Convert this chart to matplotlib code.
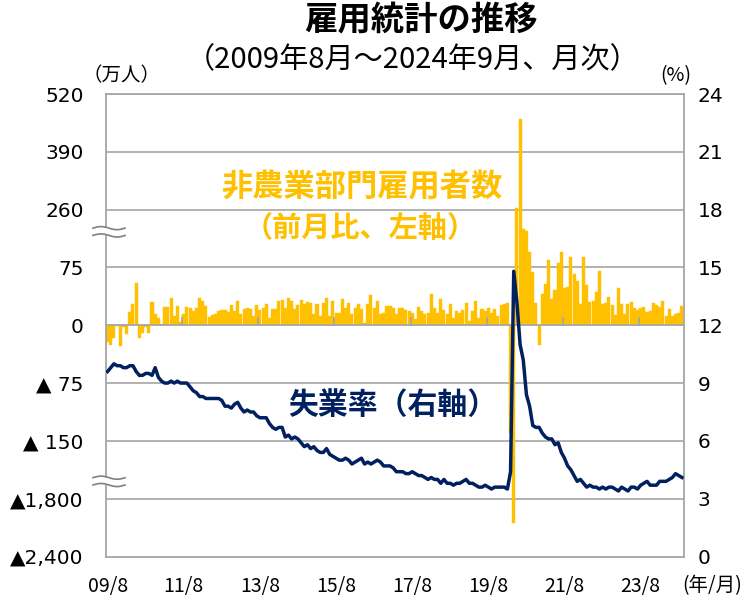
import numpy as np
import matplotlib
matplotlib.use("Agg")
import matplotlib.pyplot as plt
from matplotlib.transforms import blended_transform_factory

# ---------------- data ----------------
start_label = "2009/8"
payrolls = [  # 非農業部門雇用者数 前月比（万人） 2009/8 - 2024/9
    -22, -26, -17, -1, -27, -2, -11, 17, 27, 55, -16, -10, -2, -10, 30, 15, 10, 2, 24, 24,
    35, 12, 25, 4, 15, 24, 23, 18, 22, 36, 31, 25, 11, 13, 15, 19, 20, 20, 17, 26,
    18, 31, 15, 21, 23, 21, 12, 26, 20, 23, 28, 10, 21, 21, 32, 33, 23, 36, 31, 21,
    26, 33, 27, 30, 29, 14, 28, 12, 29, 36, 12, 31, 16, 16, 34, 23, 29, 14, 23, 27,
    21, 3, 27, 39, 23, 32, 14, 16, 25, 25, 23, 14, 22, 22, 20, 18, 16, 8, 24, 18,
    14, 16, 40, 22, 16, 34, 20, 14, 27, 9, 18, 16, 20, 29, 5, 18, 32, 10, 21, 18,
    23, 16, 21, 12, 26, 27, 29, -140, -2050, 264, 463, 199, 191, 123, 69, 29, -26, 41, 54, 99,
    34, 46, 90, 125, 48, 50, 107, 66, 57, 27, 107, 52, 30, 31, 43, 71, 28, 29, 37, 26,
    13, 48, 28, 15, 28, 30, 23, 20, 23, 24, 17, 19, 29, 26, 24, 31, 12, 21, 12, 15,
    16, 25,
]
unemployment = [  # 失業率（%）
    9.6, 9.8, 10.0, 9.9, 9.9,
    9.8, 9.8, 9.9, 9.9, 9.6, 9.4, 9.4, 9.5, 9.5, 9.4, 9.8, 9.3,
    9.1, 9.0, 9.0, 9.1, 9.0, 9.1, 9.0, 9.0, 9.0, 8.8, 8.6, 8.5,
    8.3, 8.3, 8.2, 8.2, 8.2, 8.2, 8.2, 8.1, 7.8, 7.8, 7.7, 7.9,
    8.0, 7.7, 7.5, 7.6, 7.5, 7.5, 7.3, 7.2, 7.2, 7.2, 6.9, 6.7,
    6.6, 6.7, 6.7, 6.2, 6.3, 6.1, 6.2, 6.1, 5.9, 5.7, 5.8, 5.6,
    5.7, 5.5, 5.4, 5.4, 5.6, 5.3, 5.2, 5.1, 5.0, 5.0, 5.1, 5.0,
    4.8, 4.9, 5.0, 5.1, 4.8, 4.9, 4.8, 4.9, 5.0, 4.9, 4.7, 4.7,
    4.7, 4.6, 4.4, 4.4, 4.4, 4.3, 4.3, 4.4, 4.3, 4.2, 4.2, 4.1,
    4.0, 4.1, 4.0, 4.0, 3.8, 4.0, 3.8, 3.8, 3.7, 3.8, 3.8, 3.9,
    4.0, 3.8, 3.8, 3.7, 3.6, 3.6, 3.7, 3.6, 3.5, 3.6, 3.6, 3.6,
    3.6, 3.5, 4.4, 14.8, 13.2, 11.0, 10.2, 8.4, 7.8, 6.8, 6.7, 6.7,
    6.4, 6.2, 6.1, 6.1, 5.8, 5.9, 5.4, 5.1, 4.7, 4.5, 4.2, 3.9,
    4.0, 3.8, 3.6, 3.7, 3.6, 3.6, 3.5, 3.6, 3.5, 3.6, 3.6, 3.5,
    3.4, 3.6, 3.5, 3.4, 3.6, 3.6, 3.5, 3.7, 3.8, 3.9, 3.7, 3.7,
    3.7, 3.9, 3.9, 3.9, 4.0, 4.1, 4.3, 4.2, 4.1,
]
x_labels = ["09/8", "11/8", "13/8", "15/8", "17/8", "19/8", "21/8", "23/8"]
left_tick_values = [-2400, -1800, -150, -75, 0, 75, 260, 390, 520]
left_tick_labels = ["▲2,400", "▲1,800", "▲ 150", "▲ 75", "0", "75", "260", "390", "520"]
right_ticks = [0, 3, 6, 9, 12, 15, 18, 21, 24]

# piecewise mapping of the broken left axis onto the right (%) axis
def to_axis(v):
    if v >= 260:
        return 18 + (v - 260) / 130 * 3
    if v >= 75:
        return 15 + (v - 75) / 185 * 3
    if v >= -150:
        return 12 + v / 25
    if v >= -1800:
        return 6 - (-150 - v) / 1650 * 3
    return 3 - (-1800 - v) / 600 * 3

W, H = 749, 601
fig = plt.figure(figsize=(W / 100, H / 100), dpi=100)
L, R, T, B = 106, 683.5, 94, 556.5
ax = fig.add_axes([L / W, 1 - B / H, (R - L) / W, (B - T) / H])

GOLD = "#FFC000"
NAVY = "#002060"
GRID = "#A6A6A6"
JP = ["Noto Sans CJK JP", "DejaVu Sans"]

n = len(payrolls)
idx = np.arange(n)
pv = np.array([to_axis(v) for v in payrolls])
ax.bar(idx, pv - 12, bottom=12, width=0.96, color=GOLD, zorder=2,
       edgecolor=GOLD, linewidth=0.3)
ax.plot(idx, unemployment, color=NAVY, lw=2.5, zorder=5, solid_joinstyle="round")

ax.set_xlim(-0.5, n - 0.5)
ax.set_ylim(0, 24)

for g in [3, 6, 9, 15, 18, 21, 24]:
    ax.axhline(g, color=GRID, lw=1.2, zorder=1)
ax.axhline(12, color=GRID, lw=1.3, zorder=3)
for k in range(1, 8):
    ax.plot([24 * k - 0.5] * 2, [12, 12.37], color=GRID, lw=1.3, zorder=3)

for s in ax.spines.values():
    s.set_color(GRID)
    s.set_linewidth(1.3)

ax.set_yticks([to_axis(v) for v in left_tick_values])
ax.set_yticklabels(left_tick_labels, fontsize=14.5, family="DejaVu Sans")
ax.tick_params(axis="y", length=0, pad=16)
ax.set_xticks(np.arange(0, 169, 24))
ax.set_xticklabels(x_labels, fontsize=14, family=JP)
ax.tick_params(axis="x", length=0, pad=14)

ax2 = ax.twinx()
ax2.set_ylim(0, 24)
ax2.set_yticks(right_ticks)
ax2.set_yticklabels([str(t) for t in right_ticks], fontsize=14.5, family="DejaVu Sans")
ax2.tick_params(axis="y", length=0, pad=10)
for s in ax2.spines.values():
    s.set_visible(False)

# axis break marks on the left axis
tr = blended_transform_factory(ax.transAxes, ax.transData)
x0, x1 = (93 - L) / (R - L), (125 - L) / (R - L)
xs = np.linspace(x0, x1, 60)
amp = 0.08
for yc in [16.85, 3.9]:
    wave = amp * np.sin(2 * np.pi * (xs - x0) / (x1 - x0))
    up = yc + 0.19 + wave
    lo = yc - 0.19 + wave
    ax.fill_between(xs, lo, up, transform=tr, color="white", zorder=6, clip_on=False, lw=0)
    ax.plot(xs, up, transform=tr, color="#808080", lw=1.2, zorder=7, clip_on=False)
    ax.plot(xs, lo, transform=tr, color="#808080", lw=1.2, zorder=7, clip_on=False)

def ftext(x, y, s, **kw):
    fig.text(x / W, 1 - y / H, s, ha="center", va="center", **kw)

ftext(421, 21, "雇用統計の推移", fontsize=24, fontweight="bold", family=JP)
ftext(413, 60, "（2009年8月～2024年9月、月次）", fontsize=21, family=JP)
ftext(121, 76, "（万人）", fontsize=14, family=JP)
ftext(676, 76, "(%)", fontsize=14, family=JP)
ftext(712, 586, "(年/月)", fontsize=14, family=JP)

ftext(362, 187, "非農業部門雇用者数", fontsize=22.5, fontweight="bold", color=GOLD, family=JP)
ftext(360, 228, "（前月比、左軸）", fontsize=21, fontweight="bold", color=GOLD, family=JP)
ftext(393, 405, "失業率（右軸）", fontsize=21.5, fontweight="bold", color=NAVY, family=JP)

fig.savefig("out.png", dpi=100)
